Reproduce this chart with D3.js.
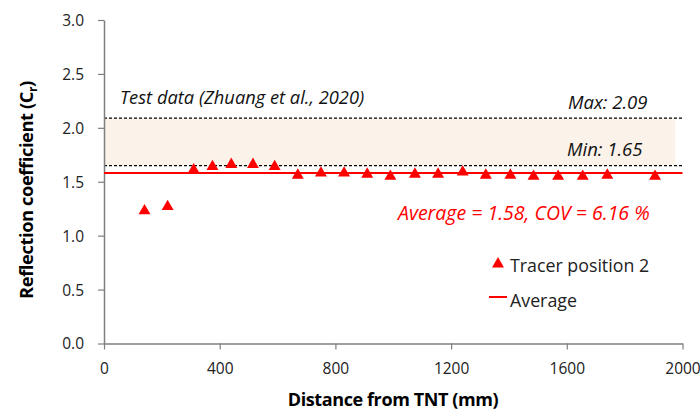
<!DOCTYPE html>
<html>
<head>
<meta charset="utf-8">
<script src="https://cdn.jsdelivr.net/npm/d3@7"></script>
<style>
  html, body { margin: 0; padding: 0; background: #fff; }
  svg { display: block; font-family: "Open Sans", "Noto Sans", sans-serif; }
</style>
</head>
<body>
<svg id="chart" width="700" height="412"></svg>
<script>
// Tracer position 2: distance from TNT (mm) and reflection coefficient
const distance = [140, 220, 310, 375, 440, 515, 590, 670, 750, 830, 910, 990, 1075, 1155, 1240, 1320, 1405, 1485, 1570, 1655, 1740, 1905];
const coefficient = [1.23, 1.27, 1.61, 1.64, 1.66, 1.66, 1.64, 1.56, 1.58, 1.58, 1.57, 1.55, 1.57, 1.57, 1.59, 1.56, 1.56, 1.55, 1.55, 1.55, 1.56, 1.55];
const averageValue = 1.58;
const testMax = 2.09;
const testMin = 1.65;
const xTicks = [0, 400, 800, 1200, 1600, 2000];
const yTicks = [0, 0.5, 1.0, 1.5, 2.0, 2.5, 3.0];

const svg = d3.select("#chart");
const plotLeft = 104, plotRight = 682.5, plotTop = 20, plotBottom = 343.5;

const x = d3.scaleLinear().domain([0, 2000]).range([plotLeft, plotRight]);
const y = d3.scaleLinear().domain([0, 3]).range([plotBottom, plotTop]);

const axisColor = "#7f7f7f";
const textColor = "#222";

// test data band
svg.append("rect")
  .attr("x", x(0)).attr("y", y(testMax))
  .attr("width", x(1975) - x(0)).attr("height", y(testMin) - y(testMax))
  .attr("fill", "#fbf2e9");

[testMax, testMin].forEach(v => {
  svg.append("line")
    .attr("x1", x(0)).attr("x2", x(2000))
    .attr("y1", y(v)).attr("y2", y(v))
    .attr("stroke", "#000").attr("stroke-width", 1.2)
    .attr("stroke-dasharray", "3,2");
});

// axes
const xAxis = d3.axisBottom(x).tickValues(xTicks).tickSize(6).tickSizeOuter(0).tickFormat(d3.format("d"));
const yAxis = d3.axisLeft(y).tickValues(yTicks).tickSize(6).tickSizeOuter(0).tickFormat(d3.format(".1f"));

const gx = svg.append("g").attr("transform", `translate(0,${plotBottom})`).call(xAxis);
const gy = svg.append("g").attr("transform", `translate(${plotLeft},0)`).call(yAxis);

[gx, gy].forEach(g => {
  g.select(".domain").attr("stroke", axisColor).attr("stroke-width", 1.5);
  g.selectAll(".tick line").attr("stroke", axisColor).attr("stroke-width", 1.2);
  g.selectAll(".tick text").attr("fill", textColor)
    .style("font-family", "'Open Sans', sans-serif").style("font-size", "15.5px");
});
gx.selectAll(".tick text").attr("dy", "1.4em");
gy.selectAll(".tick text").attr("x", -20).attr("dy", "0.35em");

// average line
svg.append("line")
  .attr("x1", x(0)).attr("x2", x(2000))
  .attr("y1", y(averageValue)).attr("y2", y(averageValue))
  .attr("stroke", "#ff0000").attr("stroke-width", 2);

// triangle markers
const tri = d3.symbol().type(d3.symbolTriangle).size(62);
svg.append("g").selectAll("path")
  .data(distance.map((d, i) => [d, coefficient[i]]))
  .join("path")
  .attr("d", tri)
  .attr("transform", d => `translate(${x(d[0])},${y(d[1])})`)
  .attr("fill", "#ff0000");

// annotations
svg.append("text")
  .attr("x", 120).attr("y", 104)
  .attr("font-style", "italic").attr("font-size", 18.3).attr("fill", "#111")
  .text("Test data (Zhuang et al., 2020)");

svg.append("text")
  .attr("x", 568).attr("y", 109)
  .attr("font-style", "italic").attr("font-size", 18.5).attr("fill", "#111")
  .text("Max: 2.09");

svg.append("text")
  .attr("x", 567).attr("y", 156)
  .attr("font-style", "italic").attr("font-size", 18.5).attr("fill", "#111")
  .text("Min: 1.65");

svg.append("text")
  .attr("x", 398).attr("y", 220)
  .attr("font-style", "italic").attr("font-size", 19.5).attr("fill", "#ff0000")
  .text("Average = 1.58, COV = 6.16 %");

// legend
svg.append("path")
  .attr("d", tri)
  .attr("transform", `translate(498,264)`)
  .attr("fill", "#ff0000");
svg.append("text")
  .attr("x", 510).attr("y", 272)
  .attr("font-size", 17.8).attr("fill", textColor)
  .text("Tracer position 2");
svg.append("line")
  .attr("x1", 489).attr("x2", 507).attr("y1", 297).attr("y2", 297)
  .attr("stroke", "#ff0000").attr("stroke-width", 2);
svg.append("text")
  .attr("x", 510).attr("y", 307)
  .attr("font-size", 17.8).attr("fill", textColor)
  .text("Average");

// axis titles
svg.append("text")
  .attr("x", 393).attr("y", 406)
  .attr("text-anchor", "middle")
  .attr("font-weight", "bold").attr("font-size", 18).attr("fill", "#000")
  .attr("letter-spacing", "-0.4")
  .text("Distance from TNT (mm)");

const yt = svg.append("text")
  .attr("transform", `translate(33,190) rotate(-90)`)
  .attr("text-anchor", "middle")
  .attr("font-weight", "bold").attr("font-size", 18.3).attr("fill", "#000")
  .attr("letter-spacing", "-0.4");
yt.append("tspan").text("Reflection coefficient (C");
yt.append("tspan").attr("font-size", 12).attr("dy", 4).text("r");
yt.append("tspan").attr("dy", -4).text(")");
</script>
</body>
</html>
